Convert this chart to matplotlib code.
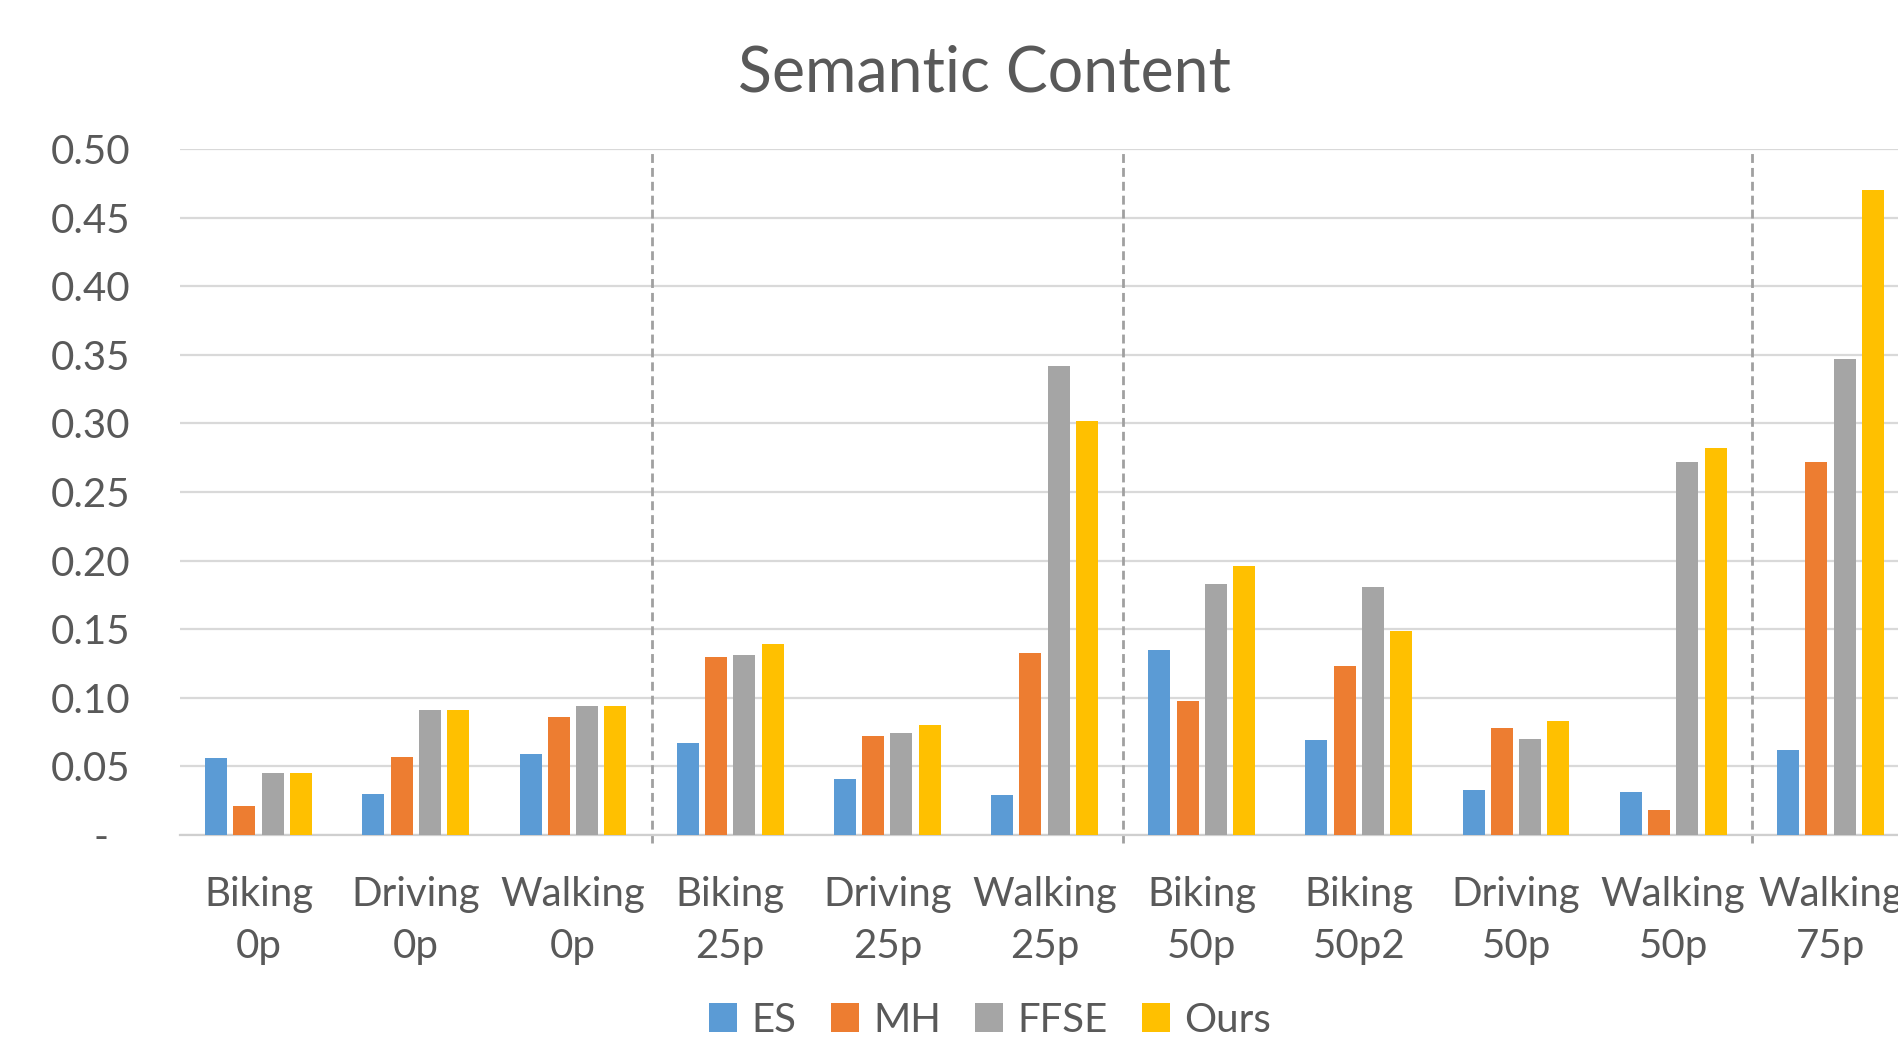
import numpy as np
import matplotlib
matplotlib.use("Agg")
from matplotlib import pyplot as plt
from matplotlib.patches import Patch

# scenario labels (activity / percentage) and the four methods
categories = ["Biking\n0p", "Driving\n0p", "Walking\n0p",
              "Biking\n25p", "Driving\n25p", "Walking\n25p",
              "Biking\n50p", "Biking\n50p2", "Driving\n50p", "Walking\n50p",
              "Walking\n75p"]
methods = ["ES", "MH", "FFSE", "Ours"]

es = [0.056, 0.030, 0.059, 0.067, 0.041, 0.029, 0.135, 0.069, 0.033, 0.031, 0.062]
mh = [0.021, 0.057, 0.086, 0.130, 0.072, 0.133, 0.098, 0.123, 0.078, 0.018, 0.272]
ffse = [0.045, 0.091, 0.094, 0.131, 0.074, 0.342, 0.183, 0.181, 0.070, 0.272, 0.347]
ours = [0.045, 0.091, 0.094, 0.139, 0.080, 0.302, 0.196, 0.149, 0.083, 0.282, 0.470]

# first scenario of each new percentage block
block_starts = [3, 6, 10]

yticks = [0.0, 0.05, 0.10, 0.15, 0.20, 0.25, 0.30, 0.35, 0.40, 0.45, 0.50]

colors = ["#5B9BD5", "#ED7D31", "#A5A5A5", "#FFC000"]
text_color = "#595959"
grid_color = "#D9D9D9"
font = ["Lato", "DejaVu Sans"]

plt.rcParams["font.family"] = font

W, H = 1898, 1037
fig = plt.figure(figsize=(W / 100, H / 100), dpi=100)
# the plot area runs a little past the right edge of the canvas
ax = fig.add_axes([180 / W, (H - 835) / H, 1729 / W, 686 / H])

x = np.arange(len(categories))
step = 0.18
width = 0.14
series = [es, mh, ffse, ours]
for i, (vals, c) in enumerate(zip(series, colors)):
    ax.bar(x + (i - 1.5) * step, vals, width, color=c, zorder=3)

ax.set_xlim(-0.5, len(categories) - 0.5)
ax.set_ylim(0, 0.5)

ax.set_yticks(yticks)
ax.set_yticklabels(["-  " if v == 0 else "%.2f" % v for v in yticks])
ax.set_xticks(x)
ax.set_xticklabels(categories, linespacing=1.5)
ax.tick_params(axis="y", length=0, pad=36, labelsize=29, labelcolor=text_color)
ax.tick_params(axis="x", length=0, pad=29.5, labelsize=29, labelcolor=text_color)

ax.yaxis.grid(True, color=grid_color, linewidth=1.6, zorder=0)
ax.set_axisbelow(True)
for side in ["left", "right", "top"]:
    ax.spines[side].set_visible(False)
ax.spines["bottom"].set_color("#CFCFCF")
ax.spines["bottom"].set_linewidth(1.6)

# dashed separators between the percentage blocks
for s in block_starts:
    ax.plot([s - 0.5, s - 0.5], [-0.006, 0.5], color="#A0A0A0", linewidth=2,
            linestyle=(0, (3.2, 1.8)), clip_on=False, zorder=2)

fig.text(984 / W, 1 - 92 / H, "Semantic Content", ha="center", va="baseline",
         fontsize=45, color=text_color)

handles = [Patch(facecolor=c, edgecolor="none") for c in colors]
fig.legend(handles, methods, loc="center", bbox_to_anchor=(990 / W, 1 - 1020 / H),
           ncol=4, frameon=False, fontsize=29, labelcolor=text_color,
           handlelength=0.7, handleheight=0.7, handletextpad=0.35,
           columnspacing=0.85, borderpad=0)

fig.savefig("out.png", dpi=100)
